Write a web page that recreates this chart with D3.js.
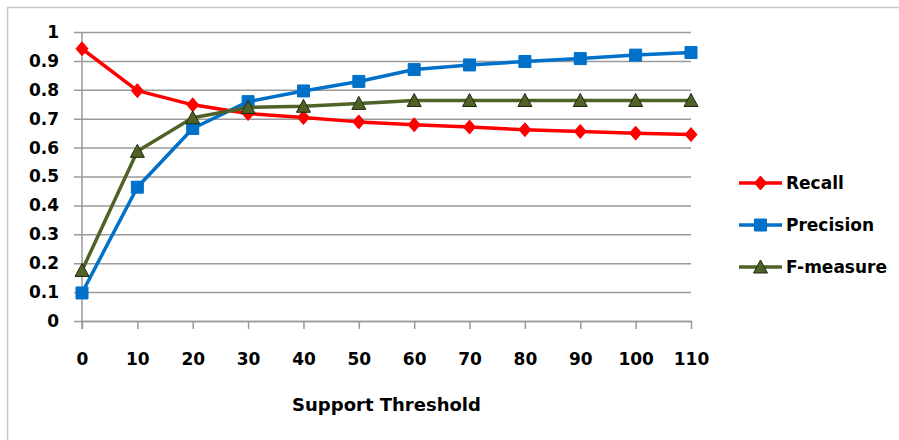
<!DOCTYPE html>
<html>
<head>
<meta charset="utf-8">
<script src="https://cdn.jsdelivr.net/npm/d3@7"></script>
<style>
  html, body { margin: 0; padding: 0; background: #fff; }
  svg { display: block; }
  text { font-family: "DejaVu Sans", Verdana, sans-serif; font-weight: bold; fill: #000; }
</style>
</head>
<body>
<svg id="chart" width="899" height="440"></svg>
<script>
// Support thresholds on the x axis
const thresholds = [0, 10, 20, 30, 40, 50, 60, 70, 80, 90, 100, 110];

// Measured scores per threshold
const recall    = [0.942, 0.797, 0.748, 0.718, 0.704, 0.689, 0.679, 0.671, 0.662, 0.656, 0.650, 0.645];
const precision = [0.097, 0.463, 0.666, 0.759, 0.796, 0.829, 0.870, 0.886, 0.898, 0.908, 0.920, 0.929];
const fmeasure  = [0.175, 0.587, 0.703, 0.739, 0.743, 0.753, 0.763, 0.763, 0.763, 0.763, 0.763, 0.763];

const seriesNames = ["Recall", "Precision", "F-measure"];
const yTicks = [0, 0.1, 0.2, 0.3, 0.4, 0.5, 0.6, 0.7, 0.8, 0.9, 1];
const xTitle = "Support Threshold";

const series = [
  { name: seriesNames[0], values: recall,    color: "#ff0000", marker: "diamond" },
  { name: seriesNames[1], values: precision, color: "#0070c8", marker: "square" },
  { name: seriesNames[2], values: fmeasure,  color: "#4f6228", marker: "triangle" }
];

const svg = d3.select("#chart");

// chart frame
svg.append("rect")
  .attr("x", 7.5).attr("y", 7.5)
  .attr("width", 1000).attr("height", 1000)
  .attr("fill", "#fff")
  .attr("stroke", "#c8c8c8").attr("stroke-width", 1.5);

const plot = { left: 82, right: 691, top: 32, bottom: 321 };

const x = d3.scaleLinear().domain([0, 110]).range([plot.left, plot.right]);
const y = d3.scaleLinear().domain([0, 1]).range([plot.bottom, plot.top]);

// horizontal gridlines with left tick marks
const yAxis = d3.axisLeft(y)
  .tickValues(yTicks)
  .tickSize(-(plot.right - plot.left))
  .tickPadding(16)
  .tickFormat(d => d3.format("")(+d.toFixed(1)));

const gy = svg.append("g")
  .attr("transform", `translate(${plot.left},0)`)
  .call(yAxis);
gy.select(".domain").remove();
gy.selectAll(".tick line")
  .attr("x1", -8)
  .attr("stroke", "#9a9a9a").attr("stroke-width", 1.5);
gy.selectAll(".tick text")
  .attr("x", -23)
  .style("font-size", "17px");

// x axis along the bottom
const xAxis = d3.axisBottom(x)
  .tickValues(thresholds)
  .tickSize(8)
  .tickPadding(24)
  .tickSizeOuter(0);
const gx = svg.append("g")
  .attr("transform", `translate(0,${plot.bottom})`)
  .call(xAxis);
gx.select(".domain").attr("stroke", "#9a9a9a").attr("stroke-width", 1.5);
gx.selectAll(".tick line").attr("stroke", "#9a9a9a").attr("stroke-width", 1.5);
gx.selectAll(".tick text").style("font-size", "17px");

// vertical axis line
svg.append("line")
  .attr("x1", x(0)).attr("x2", x(0))
  .attr("y1", y(1)).attr("y2", y(0) + 8)
  .attr("stroke", "#9a9a9a").attr("stroke-width", 1.5);

// axis title
svg.append("text")
  .attr("x", (plot.left + plot.right) / 2)
  .attr("y", 411)
  .attr("text-anchor", "middle")
  .style("font-size", "18px")
  .text(xTitle);

function markerPath(kind) {
  if (kind === "diamond") return "M0,-7L6,0L0,7L-6,0Z";
  if (kind === "square") return "M-6,-6H6V6H-6Z";
  return "M0,-7L7,6L-7,6Z";
}
function markerStroke(s) {
  return s.marker === "triangle" ? "#1e2a0c" : s.color;
}

const line = d3.line()
  .x((d, i) => x(thresholds[i]))
  .y(d => y(d));

series.forEach(s => {
  const g = svg.append("g");
  g.append("path")
    .datum(s.values)
    .attr("d", line)
    .attr("fill", "none")
    .attr("stroke", s.color)
    .attr("stroke-width", 3.5)
    .attr("stroke-linejoin", "round");
  g.selectAll("path.marker")
    .data(s.values)
    .join("path")
    .attr("class", "marker")
    .attr("transform", (d, i) => `translate(${x(thresholds[i])},${y(d)})`)
    .attr("d", markerPath(s.marker))
    .attr("fill", s.color)
    .attr("stroke", markerStroke(s))
    .attr("stroke-width", 1);
});

// legend
const legend = svg.append("g").attr("transform", "translate(739,183)");
series.forEach((s, i) => {
  const row = legend.append("g").attr("transform", `translate(0,${i * 42})`);
  row.append("line")
    .attr("x1", 0).attr("x2", 43)
    .attr("stroke", s.color).attr("stroke-width", 3.5);
  row.append("path")
    .attr("transform", "translate(21.5,0)")
    .attr("d", markerPath(s.marker))
    .attr("fill", s.color)
    .attr("stroke", markerStroke(s))
    .attr("stroke-width", 1);
  row.append("text")
    .attr("x", 47).attr("y", 0)
    .attr("dy", "0.35em")
    .style("font-size", "17px")
    .text(s.name);
});
</script>
</body>
</html>
